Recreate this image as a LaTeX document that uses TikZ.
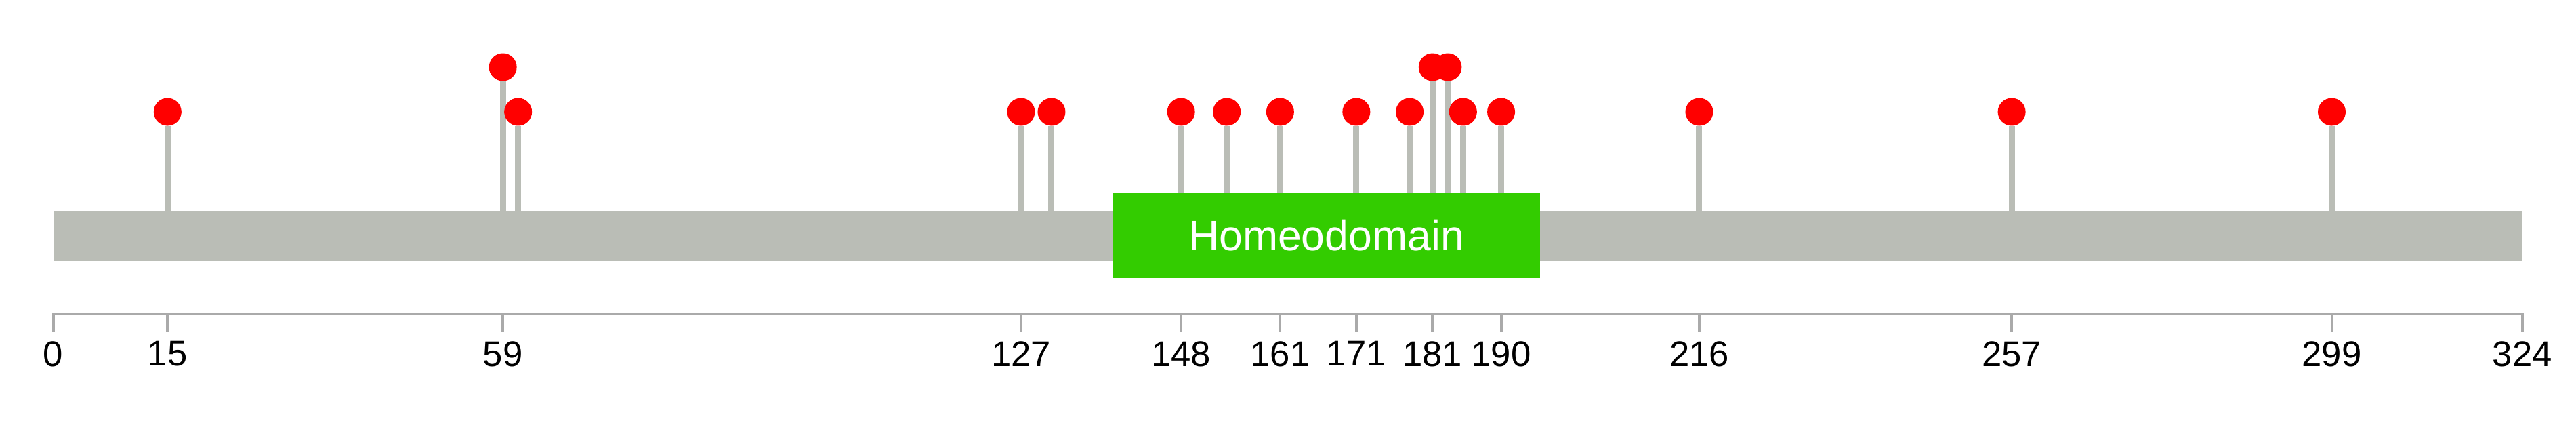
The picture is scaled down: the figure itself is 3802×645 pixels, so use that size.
\documentclass[tikz,border=0pt]{standalone}
\usepackage{fontspec}
\setmainfont{Liberation Sans}
\definecolor{bargray}{HTML}{BABDB6}
\definecolor{axisgray}{HTML}{AAAAAA}
\definecolor{domgreen}{HTML}{33CC00}
\tikzset{
	pin/.style={circle,fill=red,inner sep=0pt,minimum size=4.1mm},
	stem/.style={draw=bargray,line width=0.9mm},
	domainbox/.style={fill=domgreen,text=white,inner sep=0pt,minimum width=63mm,minimum height=12.5mm,font=\fontsize{17.8}{20}\selectfont},
	axis/.style={draw=axisgray,line width=0.45mm},
	tick/.style={draw=axisgray,line width=0.4mm},
	poslabel/.style={inner sep=0pt,font=\fontsize{15}{17}\selectfont}
}
\begin{document}
\begin{tikzpicture}[x=0.1mm,y=0.1mm]
	\useasboundingbox (0,0) rectangle (3802,645);

	\fill[bargray] (78.6,260) rectangle (3722.7,334);

	\foreach \p/\h in {15/480,59/546,61/480,127/480,131/480,148/480,154/480,161/480,171/480,178/480,181/546,183/546,185/480,190/480,216/480,257/480,299/480} {
		\coordinate (b\p) at ({78.6+11.247*\p},334);
		\node[pin] (m\p) at ({78.6+11.247*\p},\h) {};
		\draw[stem] (b\p) -- (m\p);
	}

	\node[domainbox] (hd) at (1957.5,297.5) {Homeodomain};

	\coordinate (a0) at (78.6,182);
	\coordinate (a324) at (3722.7,182);
	\draw[axis] (a0) -- (a324);
	\foreach \t in {0,15,59,127,148,161,171,181,190,216,257,299,324} {
		\coordinate (k\t) at ({78.6+11.247*\t},184);
		\coordinate (e\t) at ({78.6+11.247*\t},155);
		\draw[tick] (k\t) -- (e\t);
		\node[poslabel,below=1.3mm] (l\t) at (e\t) {\t};
	}
\end{tikzpicture}
\end{document}
